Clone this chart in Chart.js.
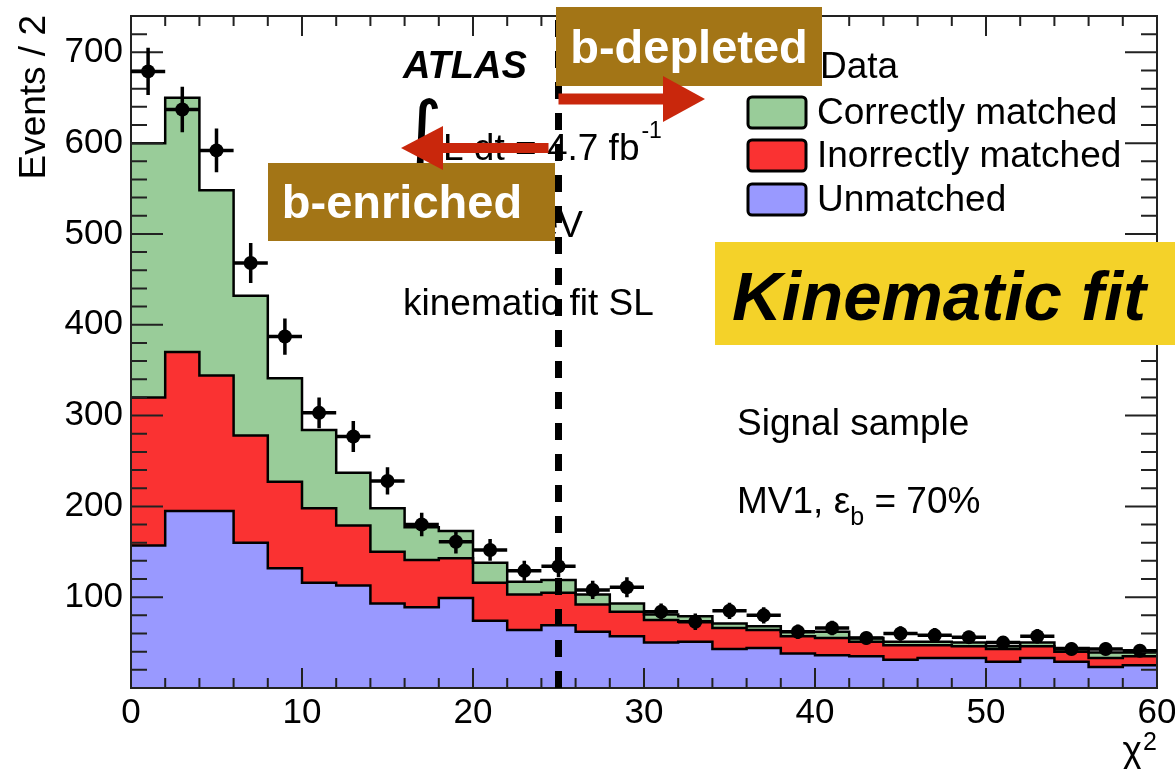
<!DOCTYPE html>
<html>
<head>
<meta charset="utf-8">
<title>Kinematic fit chi2, signal sample</title>
<script src="https://cdn.jsdelivr.net/npm/chart.js@4.4.1/dist/chart.umd.min.js"></script>
<style>
  html, body { margin: 0; padding: 0; background: #fff; }
  #wrap { width: 1175px; height: 769px; }
</style>
</head>
<body>
<div id="wrap"><canvas id="chi2Chart" width="1175" height="769"></canvas></div>
<script>
// chi2 histogram, bins of width 2 between 0 and 60
const xMax = 60;
const yMax = 740;
const binLow = [0, 2, 4, 6, 8, 10, 12, 14, 16, 18, 20, 22, 24, 26, 28, 30, 32, 34, 36, 38, 40, 42, 44, 46, 48, 50, 52, 54, 56, 58];
const binCentres = [1, 3, 5, 7, 9, 11, 13, 15, 17, 19, 21, 23, 25, 27, 29, 31, 33, 35, 37, 39, 41, 43, 45, 47, 49, 51, 53, 55, 57, 59];

// MC components (stacked bottom to top)
const unmatched = [157, 195, 195, 160, 132, 116, 113, 93, 89, 99, 74, 64, 69, 62, 57, 50, 51, 43, 44, 38, 36, 35, 31, 33, 33, 29, 33, 29, 23, 25];
const incorrectlyMatched = [163, 175, 149, 118, 95, 82, 66, 57, 52, 44, 42, 39, 36, 30, 27, 25, 22, 23, 20, 19, 19, 16, 16, 14, 13, 14, 13, 11, 10, 10];
const correctlyMatched = [280, 280, 204, 154, 114, 86, 58, 48, 36, 30, 22, 14, 14, 11, 9, 6, 6, 5, 4, 5, 7, 4, 4, 4, 4, 3, 4, 4, 6, 4];

// data with statistical errors
const dataCounts = [679, 637, 592, 468, 387, 303, 277, 228, 180, 161, 152, 129, 134, 108, 111, 84, 73, 85, 80, 62, 66, 55, 60, 58, 56, 50, 57, 43, 43, 41];
const dataErrors = [26, 25, 24, 22, 20, 17, 17, 15, 13, 13, 12, 11, 12, 10, 11, 9, 9, 9, 9, 8, 8, 7, 8, 8, 7, 7, 8, 7, 7, 6];

const xTickLabels = [0, 10, 20, 30, 40, 50, 60];
const yTickLabels = [100, 200, 300, 400, 500, 600, 700];
const chi2Cut = 25;

const black = '#000';
const greenFill = '#99CC99';
const redFill = '#FA3232';
const blueFill = '#9999FF';
const boxBrown = '#A37516';
const arrowRed = '#C9270C';
const fitYellow = '#F4D229';
const fontFamily = "'Liberation Sans', Arial, Helvetica, sans-serif";
const textSize = 37;

Chart.defaults.font.family = fontFamily;
Chart.defaults.color = black;

// stepped line needs one extra point at the right edge
function histPoints(values) {
  const pts = binLow.map((x, i) => ({ x: x, y: values[i] }));
  pts.push({ x: xMax, y: values[values.length - 1] });
  return pts;
}

function histDataset(label, values, colour, fill) {
  return {
    label: label,
    data: histPoints(values),
    stepped: 'before',
    fill: fill,
    backgroundColor: colour,
    borderColor: black,
    borderWidth: 2.5,
    pointRadius: 0,
    tension: 0
  };
}

// frame with inward ticks on all four sides
const frameTicks = {
  id: 'frameTicks',
  afterDatasetsDraw(chart) {
    const { ctx, chartArea: a, scales: { x, y } } = chart;
    ctx.save();
    ctx.strokeStyle = '#222';
    ctx.lineWidth = 2;
    ctx.beginPath();
    for (let v = 0; v <= xMax; v += 2) {
      const px = x.getPixelForValue(v);
      const len = v % 10 === 0 ? 20 : 10;
      ctx.moveTo(px, a.bottom); ctx.lineTo(px, a.bottom - len);
      ctx.moveTo(px, a.top); ctx.lineTo(px, a.top + len);
    }
    for (let v = 20; v < yMax; v += 20) {
      const py = y.getPixelForValue(v);
      const len = v % 100 === 0 ? 32 : 16;
      ctx.moveTo(a.left, py); ctx.lineTo(a.left + len, py);
      ctx.moveTo(a.right, py); ctx.lineTo(a.right - len, py);
    }
    ctx.stroke();
    ctx.strokeRect(a.left, a.top, a.right - a.left, a.bottom - a.top);
    ctx.restore();
  }
};

// data error bars: vertical = stat error, horizontal = bin width
const errorBars = {
  id: 'errorBars',
  afterDatasetsDraw(chart) {
    const { ctx, scales: { x, y } } = chart;
    ctx.save();
    ctx.strokeStyle = black;
    ctx.lineWidth = 3.5;
    ctx.beginPath();
    binCentres.forEach((c, i) => {
      const px = x.getPixelForValue(c);
      const py = y.getPixelForValue(dataCounts[i]);
      ctx.moveTo(x.getPixelForValue(c - 1), py);
      ctx.lineTo(x.getPixelForValue(c + 1), py);
      ctx.moveTo(px, y.getPixelForValue(dataCounts[i] - dataErrors[i]));
      ctx.lineTo(px, y.getPixelForValue(dataCounts[i] + dataErrors[i]));
    });
    ctx.stroke();
    ctx.restore();
  }
};

function label(ctx, str, x, y, size, opts) {
  opts = opts || {};
  ctx.font = (opts.style || '') + ' ' + size + 'px ' + (opts.family || fontFamily);
  ctx.fillStyle = opts.color || black;
  ctx.textAlign = opts.align || 'left';
  ctx.textBaseline = 'alphabetic';
  ctx.fillText(str, x, y);
  return ctx.measureText(str).width;
}

function roundBox(ctx, x, y, w, h, r) {
  ctx.beginPath();
  ctx.moveTo(x + r, y);
  ctx.arcTo(x + w, y, x + w, y + h, r);
  ctx.arcTo(x + w, y + h, x, y + h, r);
  ctx.arcTo(x, y + h, x, y, r);
  ctx.arcTo(x, y, x + w, y, r);
  ctx.closePath();
}

function arrow(ctx, xTail, xBase, xTip, y, shaft, headHalf) {
  ctx.fillStyle = arrowRed;
  ctx.fillRect(Math.min(xTail, xBase), y - shaft / 2, Math.abs(xBase - xTail), shaft);
  ctx.beginPath();
  ctx.moveTo(xBase, y - headHalf);
  ctx.lineTo(xTip, y);
  ctx.lineTo(xBase, y + headHalf);
  ctx.closePath();
  ctx.fill();
}

const annotations = {
  id: 'annotations',
  afterDraw(chart) {
    const { ctx, chartArea: a, scales: { x, y } } = chart;
    ctx.save();

    // axis titles
    ctx.save();
    ctx.translate(45, 15);
    ctx.rotate(-Math.PI / 2);
    label(ctx, 'Events / 2', 0, 0, textSize, { align: 'right' });
    ctx.restore();
    label(ctx, '2', 1157, 750, 25, { align: 'right' });
    label(ctx, '\u03C7', 1142, 762, textSize, { align: 'right' });

    // plot texts
    label(ctx, 'ATLAS', 403, 78, 38, { style: 'italic bold' });
    label(ctx, '\u222B', 400, 160, 82, { family: "'DejaVu Sans', sans-serif" });
    let w = label(ctx, 'L dt = 4.7 fb', 443, 160, textSize);
    label(ctx, '-1', 443 + w + 2, 138, 23);
    label(ctx, '\u221As = 7 TeV', 583, 237, textSize, { align: 'right' });
    label(ctx, 'kinematic fit SL', 403, 315, textSize);
    label(ctx, 'Signal sample', 737, 435, textSize);
    w = label(ctx, 'MV1, \u03B5', 737, 513, textSize);
    label(ctx, 'b', 737 + w, 525, 25);
    label(ctx, ' = 70%', 737 + w + 14, 513, textSize);

    // legend
    label(ctx, 'Data', 820, 78, textSize);
    ctx.strokeStyle = black;
    ctx.lineWidth = 3;
    ctx.beginPath();
    ctx.moveTo(756, 66); ctx.lineTo(796, 66);
    ctx.moveTo(776, 50); ctx.lineTo(776, 82);
    ctx.stroke();
    const legendRows = [
      { text: 'Correctly matched', colour: greenFill, top: 97 },
      { text: 'Inorrectly matched', colour: redFill, top: 140 },
      { text: 'Unmatched', colour: blueFill, top: 184 }
    ];
    legendRows.forEach(r => {
      roundBox(ctx, 748, r.top, 58, 31, 4);
      ctx.fillStyle = r.colour;
      ctx.fill();
      ctx.stroke();
      label(ctx, r.text, 817, r.top + 27, textSize);
    });

    // chi2 cut
    const cx = x.getPixelForValue(chi2Cut);
    ctx.strokeStyle = black;
    ctx.lineWidth = 7;
    ctx.setLineDash([17, 14]);
    ctx.beginPath();
    ctx.moveTo(cx, a.bottom);
    ctx.lineTo(cx, a.top);
    ctx.stroke();
    ctx.setLineDash([]);

    // region boxes
    ctx.fillStyle = boxBrown;
    ctx.fillRect(556, 7, 266, 79);
    label(ctx, 'b-depleted', 689, 63, 47, { style: 'bold', color: '#fff', align: 'center' });
    ctx.fillStyle = boxBrown;
    ctx.fillRect(268, 163, 287, 78);
    label(ctx, 'b-enriched', 402, 218, 47, { style: 'bold', color: '#fff', align: 'center' });
    ctx.fillStyle = fitYellow;
    ctx.fillRect(715, 242, 460, 103);
    label(ctx, 'Kinematic fit', 732, 320, 69, { style: 'italic bold' });

    // arrows
    arrow(ctx, cx, 663, 705, 99, 11, 23);
    arrow(ctx, cx - 10, 443, 401, 148, 10, 22);

    ctx.restore();
  }
};

new Chart(document.getElementById('chi2Chart'), {
  type: 'line',
  data: {
    datasets: [
      {
        type: 'scatter',
        label: 'Data',
        data: binCentres.map((c, i) => ({ x: c, y: dataCounts[i] })),
        stack: 'points',
        pointRadius: 7,
        pointBackgroundColor: black,
        pointBorderColor: black,
        borderWidth: 0
      },
      histDataset('Unmatched', unmatched, blueFill, 'origin'),
      histDataset('Inorrectly matched', incorrectlyMatched, redFill, '-1'),
      histDataset('Correctly matched', correctlyMatched, greenFill, '-1')
    ]
  },
  options: {
    responsive: false,
    animation: false,
    events: [],
    layout: { padding: { top: 16, right: 18, left: 0, bottom: 0 } },
    plugins: {
      legend: { display: false },
      tooltip: { enabled: false },
      filler: { drawTime: 'beforeDatasetsDraw' }
    },
    scales: {
      x: {
        type: 'linear',
        min: 0,
        max: xMax,
        grid: { display: false, drawTicks: false },
        border: { display: false },
        ticks: {
          stepSize: 10,
          padding: 4,
          maxRotation: 0,
          font: { size: 35 },
          callback: v => xTickLabels.includes(v) ? v : ''
        },
        afterFit: scale => {
          scale.height = 81;
          scale.paddingLeft = 0;
          scale.paddingRight = 0;
        }
      },
      y: {
        type: 'linear',
        stacked: true,
        min: 0,
        max: yMax,
        grid: { display: false, drawTicks: false },
        border: { display: false },
        ticks: {
          stepSize: 100,
          includeBounds: false,
          padding: 8,
          font: { size: 35 },
          callback: v => yTickLabels.includes(v) ? v : ''
        },
        afterFit: scale => {
          scale.width = 131;
          scale.paddingTop = 0;
          scale.paddingBottom = 0;
        }
      }
    }
  },
  plugins: [frameTicks, errorBars, annotations]
});
</script>
</body>
</html>
